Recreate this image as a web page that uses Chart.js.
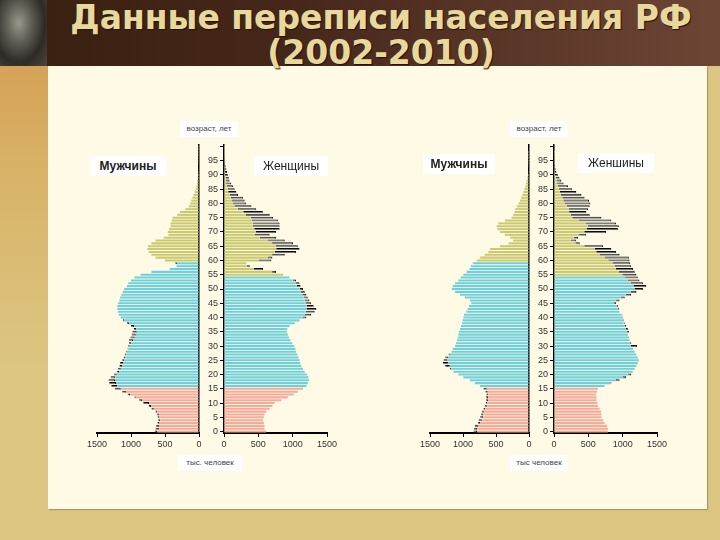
<!DOCTYPE html>
<html>
<head>
<meta charset="utf-8">
<script src="https://cdn.jsdelivr.net/npm/chart.js@4.4.0/dist/chart.umd.min.js"></script>
<style>
  body { margin: 0; width: 720px; height: 540px; overflow: hidden; position: relative;
         background: #dcc682; font-family: "Liberation Sans", Arial, sans-serif; }
  #top { position: absolute; left: 0; top: 0; width: 720px; height: 66px;
         background: linear-gradient(to right, #39200f, #45271a 40%, #6d4535); }
  #photo { position: absolute; left: 0; top: 0; width: 47px; height: 66px;
           background: radial-gradient(ellipse at 40% 35%, #9a978c 0%, #5b5850 35%, #2e2b26 65%, #4a463e 100%); }
  #strip { position: absolute; left: 0; top: 66px; width: 48px; height: 474px;
           background: linear-gradient(to bottom, #d5a258 0px, #d9b46a 120px, #dcc682 300px); }
  #panel { position: absolute; left: 48px; top: 66px; width: 659px; height: 443px;
           background: #fefae5; box-shadow: 1px 1px 1px rgba(90, 70, 20, 0.35); }
  #title { position: absolute; left: 44px; top: 0px; width: 674px; text-align: center;
           font: bold 33px "DejaVu Sans", Verdana, sans-serif; line-height: 35px;
           color: #e9d89c; text-shadow: 1px 1px 1px #24120a; }
  canvas { position: absolute; }
  .box { position: absolute; background: #fff; text-align: center; color: #222; }
  .axis { font-size: 8px; line-height: 16px; color: #444; }
  .sex { font-size: 12px; line-height: 20px; font-weight: bold; }
</style>
</head>
<body>
<div id="top"></div>
<div id="photo"></div>
<div id="strip"></div>
<div id="panel"></div>
<div id="title">Данные переписи населения РФ<br>(2002-2010)</div>

<canvas id="m2002" width="145" height="330" style="left:60px;top:135px"></canvas>
<canvas id="f2002" width="140" height="330" style="left:200px;top:135px"></canvas>
<canvas id="m2010" width="145" height="330" style="left:390px;top:135px"></canvas>
<canvas id="f2010" width="140" height="330" style="left:530px;top:135px"></canvas>

<div class="box axis" style="left:180px;top:121px;width:58px">возраст, лет</div>
<div class="box axis" style="left:510px;top:121px;width:58px">возраст, лет</div>
<div class="box axis" style="left:178px;top:455px;width:64px">тыс. человек</div>
<div class="box axis" style="left:510px;top:455px;width:58px">тыс человек</div>
<div class="box sex" style="left:90px;top:156px;width:76px">Мужчины</div>
<div class="box sex" style="left:254px;top:156px;width:74px;font-weight:normal">Женщины</div>
<div class="box sex" style="left:423px;top:154px;width:72px">Мужчины</div>
<div class="box sex" style="left:578px;top:153px;width:76px;font-weight:normal">Женшины</div>

<script>
// age groups, one bar per year of age
var ages = [0, 1, 2, 3, 4, 5, 6, 7, 8, 9, 10, 11, 12, 13, 14, 15, 16, 17, 18, 19,
            20, 21, 22, 23, 24, 25, 26, 27, 28, 29, 30, 31, 32, 33, 34, 35, 36, 37, 38, 39,
            40, 41, 42, 43, 44, 45, 46, 47, 48, 49, 50, 51, 52, 53, 54, 55, 56, 57, 58, 59,
            60, 61, 62, 63, 64, 65, 66, 67, 68, 69, 70, 71, 72, 73, 74, 75, 76, 77, 78, 79,
            80, 81, 82, 83, 84, 85, 86, 87, 88, 89, 90, 91, 92, 93, 94, 95, 96, 97, 98, 99, 100];
var ageTicks = [0, 5, 10, 15, 20, 25, 30, 35, 40, 45, 50, 55, 60, 65, 70, 75, 80, 85, 90, 95];
var valueTicks = [0, 500, 1000, 1500];

// thousand people, census 2002
var male2002 = [650, 640, 630, 610, 600, 610, 620, 640, 700, 740,
                820, 880, 950, 1050, 1130, 1240, 1290, 1320, 1330, 1300,
                1250, 1210, 1190, 1170, 1160, 1130, 1110, 1090, 1070, 1050,
                1040, 1030, 1030, 1010, 990, 980, 960, 1000, 1060, 1120,
                1150, 1180, 1190, 1200, 1200, 1190, 1170, 1160, 1140, 1120,
                1100, 1060, 1040, 1000, 950, 860, 700, 430, 330, 350,
                500, 640, 700, 740, 760, 750, 700, 640, 520, 450,
                460, 440, 420, 420, 400, 390, 320, 280, 200, 150,
                130, 115, 95, 80, 60, 50, 40, 30, 25, 20,
                15, 12, 9, 7, 5, 4, 3, 2, 2, 1, 1];
var female2002 = [615, 590, 590, 580, 570, 580, 590, 615, 665, 705,
                  735, 835, 930, 1015, 1075, 1150, 1200, 1220, 1235, 1230,
                  1210, 1175, 1150, 1125, 1110, 1100, 1085, 1070, 1050, 1040,
                  1020, 995, 970, 945, 930, 915, 920, 955, 1030, 1100,
                  1200, 1270, 1320, 1345, 1305, 1270, 1245, 1220, 1200, 1175,
                  1150, 1115, 1100, 1050, 955, 860, 760, 570, 375, 325,
                  690, 705, 885, 1050, 1100, 1075, 1005, 885, 760, 665,
                  760, 810, 810, 810, 785, 715, 665, 565, 470, 400,
                  325, 300, 275, 205, 180, 155, 130, 105, 80, 70,
                  55, 45, 35, 25, 15, 10, 7, 5, 3, 2, 2];

// thousand people, census 2010
var male2010 = [840, 835, 820, 770, 765, 740, 730, 715, 690, 665,
                655, 650, 650, 645, 660, 690, 745, 820, 895, 995,
                1070, 1145, 1200, 1270, 1305, 1295, 1270, 1220, 1175, 1155,
                1120, 1105, 1090, 1080, 1070, 1060, 1045, 1030, 1015, 1005,
                995, 985, 950, 930, 910, 875, 895, 970, 1045, 1120,
                1170, 1155, 1120, 1070, 1035, 995, 945, 900, 880, 850,
                790, 740, 670, 615, 590, 440, 310, 240, 285, 365,
                440, 480, 490, 465, 365, 265, 240, 220, 210, 185,
                160, 135, 120, 100, 85, 70, 55, 45, 35, 25,
                15, 10, 7, 5, 3, 2, 1, 1, 1, 0, 0];
var female2010 = [785, 785, 775, 735, 715, 690, 690, 685, 665, 640,
                  630, 620, 620, 615, 625, 640, 735, 835, 955, 1050,
                  1125, 1150, 1175, 1200, 1220, 1235, 1220, 1200, 1175, 1150,
                  1210, 1125, 1100, 1090, 1080, 1090, 1075, 1050, 1030, 1015,
                  1005, 995, 955, 945, 930, 905, 955, 1030, 1125, 1200,
                  1295, 1345, 1295, 1245, 1220, 1200, 1175, 1150, 1125, 1110,
                  1100, 1090, 955, 905, 835, 715, 375, 325, 350, 470,
                  760, 930, 945, 905, 835, 690, 520, 470, 495, 520,
                  530, 510, 445, 400, 325, 265, 205, 140, 105, 80,
                  55, 35, 25, 18, 12, 8, 5, 3, 2, 1, 1];

var PINK = '#f6aa9a';
var CYAN = '#6fd0dc';
var OLIVE = '#cbc96f';

/**
 * One half of a pyramid: the shared part in age group colours,
 * the surplus over the other sex in dark grey on top of it.
 */
function drawSide(id, own, other, oldFrom, male, padLeft, padRight) {
    var common = own.map((v, i) => Math.min(v, other[i]));
    var surplus = own.map((v, i) => Math.max(v - other[i], 0));
    var colours = ages.map(a => a < 16 ? PINK : (a < oldFrom ? CYAN : OLIVE));

    new Chart(document.getElementById(id), {
        type: 'bar',
        data: {
            labels: ages,
            datasets: [
                {data: common, backgroundColor: colours, barPercentage: 0.72, categoryPercentage: 1},
                {data: surplus, backgroundColor: '#777777', borderColor: '#0c0c0c',
                 borderWidth: {top: 1, right: 1, bottom: 0, left: 0}, borderSkipped: false,
                 barPercentage: 0.72, categoryPercentage: 1}
            ]
        },
        options: {
            indexAxis: 'y',
            responsive: false,
            animation: false,
            layout: {padding: {left: padLeft, right: padRight, top: 10, bottom: 0}},
            plugins: {legend: {display: false}, tooltip: {enabled: false}},
            scales: {
                x: {
                    stacked: true, min: 0, max: 1500, reverse: male,
                    afterBuildTicks: s => { s.ticks = valueTicks.map(v => ({value: v})); },
                    ticks: {color: '#333', font: {size: 9, family: 'Liberation Sans'}, padding: 2, maxRotation: 0,
                            callback: v => String(v)},
                    grid: {drawOnChartArea: false, tickLength: 4, color: '#000'},
                    border: {color: '#000', width: 2},
                    afterFit: s => { s.height = 32; s.paddingLeft = 0; s.paddingRight = 0; }
                },
                y: {
                    stacked: true, reverse: true,
                    position: male ? 'right' : 'left',
                    ticks: {
                        display: !male, autoSkip: false, color: '#333', padding: 2,
                        font: {size: 9, family: 'Liberation Sans'},
                        callback: (v, i) => ageTicks.indexOf(ages[i]) >= 0 ? String(ages[i]) : (ages[i] === 100 ? '' : null)
                    },
                    grid: {display: !male, drawOnChartArea: false, offset: false, tickLength: 4, color: '#000'},
                    border: {color: '#000', width: 1.5},
                    afterFit: s => { s.width = male ? 3 : 24; s.paddingTop = 0; s.paddingBottom = 0; }
                }
            }
        }
    });
}

drawSide('m2002', male2002, female2002, 60, true, 37, 3);
drawSide('f2002', female2002, male2002, 55, false, 0, 13);
drawSide('m2010', male2010, female2010, 60, true, 40, 3);
drawSide('f2010', female2010, male2010, 55, false, 0, 13);
</script>
</body>
</html>
